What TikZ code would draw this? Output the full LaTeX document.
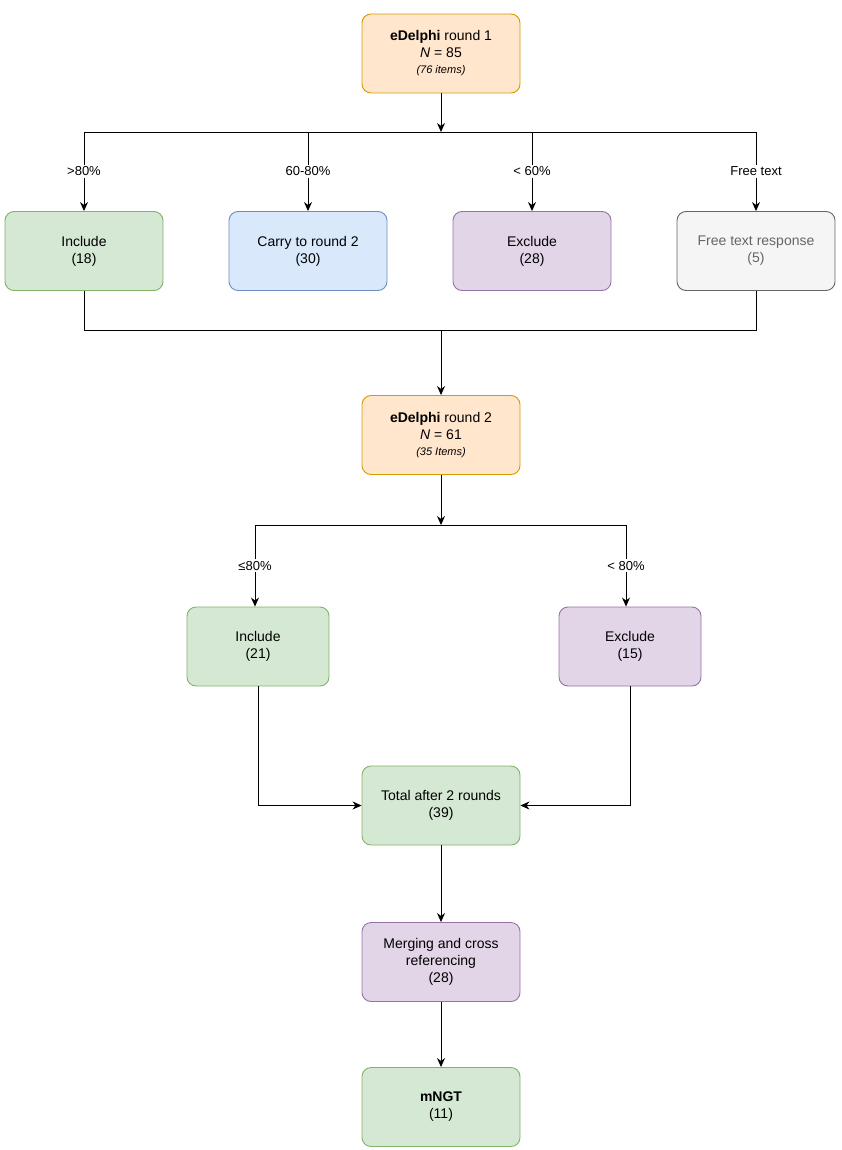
\documentclass[tikz,border=0pt]{standalone}
\usepackage{fontspec}
\setmainfont{Liberation Sans}
\usetikzlibrary{arrows.meta}
\definecolor{orF}{HTML}{FFE6CC}\definecolor{orD}{HTML}{D79B00}
\definecolor{grF}{HTML}{D5E8D4}\definecolor{grD}{HTML}{82B366}
\definecolor{blF}{HTML}{DAE8FC}\definecolor{blD}{HTML}{6C8EBF}
\definecolor{puF}{HTML}{E1D5E7}\definecolor{puD}{HTML}{9673A6}
\definecolor{gyF}{HTML}{F5F5F5}\definecolor{gyD}{HTML}{666666}
\begin{document}
\begin{tikzpicture}[x=1pt,y=-1pt,
 box/.style={draw,rounded corners=9pt,minimum width=158pt,minimum height=79pt,align=center,font=\fontsize{14}{17}\selectfont,line width=0.9pt},
 sbox/.style={box,minimum width=142pt},
 orb/.style={box,fill=orF,draw=orD},
 grb/.style={box,fill=grF,draw=grD},
 blb/.style={box,fill=blF,draw=blD},
 pub/.style={box,fill=puF,draw=puD},
 gyb/.style={box,fill=gyF,draw=gyD,text=gyD},
 lbl/.style={fill=white,font=\fontsize{13}{15}\selectfont,inner sep=2pt},
 ln/.style={line width=0.9pt},
 ar/.style={ln,-{Stealth[length=9pt,width=8pt]}}]
\useasboundingbox (0,0) rectangle (841,1150);
\node[orb] (r1) at (441,53.5) {\textbf{eDelphi} round 1\\\textit{N} = 85\\[-1pt]{\fontsize{11}{13}\selectfont\itshape (76 items)}};
\node[grb] (inc) at (84,251) {Include\\(18)};
\node[blb] (car) at (308,251) {Carry to round 2\\(30)};
\node[pub] (exc) at (532,251) {Exclude\\(28)};
\node[gyb] (fre) at (756,251) {Free text response\\(5)};
\coordinate (j1) at (441,132);
\coordinate (a1) at (84,132);\coordinate (a2) at (308,132);\coordinate (a3) at (532,132);\coordinate (a4) at (756,132);
\draw[ar] (r1) -- (j1);
\draw[ln] (a1) -- (a4);
\draw[ar] (a1) -- node[lbl]{>80\%} (inc);
\draw[ar] (a2) -- node[lbl]{60-80\%} (car);
\draw[ar] (a3) -- node[lbl]{< 60\%} (exc);
\draw[ar] (a4) -- node[lbl]{Free text} (fre);
\node[orb] (r2) at (441,435) {\textbf{eDelphi} round 2\\\textit{N} = 61\\[-1pt]{\fontsize{11}{13}\selectfont\itshape (35 Items)}};
\coordinate (b1) at (84,330);\coordinate (b2) at (756,330);\coordinate (bm) at (441,330);
\draw[ln] (inc) -- (b1) -- (b2) -- (fre);
\draw[ar] (bm) -- (r2);
\node[grb,minimum width=142pt] (inc2) at (258,646.5) {Include\\(21)};
\node[pub,minimum width=142pt] (exc2) at (630,646.5) {Exclude\\(15)};
\coordinate (c0) at (441,525);\coordinate (c1) at (255,525);\coordinate (c2) at (626,525);
\draw[ar] (r2) -- (c0);
\draw[ln] (c1) -- (c2);
\draw[ar] (c1) -- node[lbl]{≤80\%} (inc2.north -| c1);
\draw[ar] (c2) -- node[lbl]{< 80\%} (exc2.north -| c2);
\node[grb] (tot) at (441,805.5) {Total after 2 rounds\\(39)};
\draw[ar] (inc2) |- (tot);
\draw[ar] (exc2) |- (tot);
\node[pub] (mer) at (441,962) {Merging and cross\\referencing\\(28)};
\draw[ar] (tot) -- (mer);
\node[grb] (ngt) at (441,1107) {\textbf{mNGT}\\(11)};
\draw[ar] (mer) -- (ngt);
\end{tikzpicture}
\end{document}
